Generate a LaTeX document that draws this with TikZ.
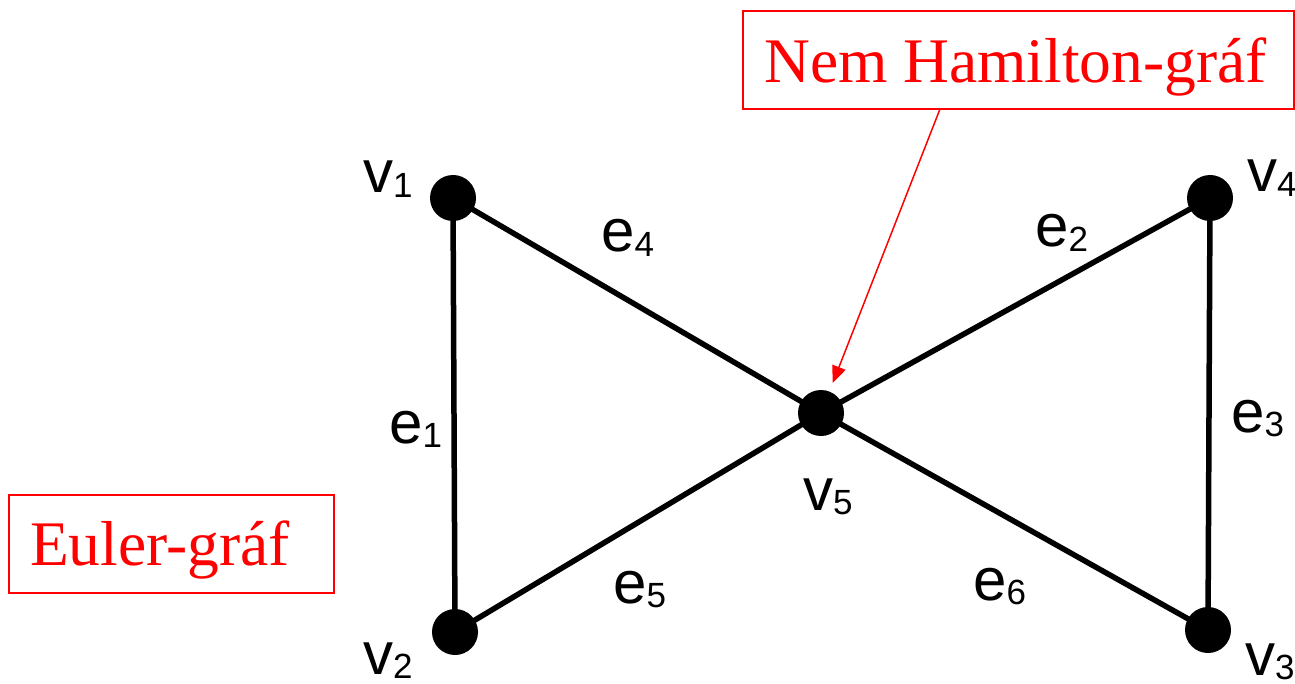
\documentclass[tikz,border=0pt]{standalone}
\usepackage{fontspec}
\setmainfont{Liberation Serif}
\newfontfamily\arialf{Liberation Sans}
\usetikzlibrary{arrows.meta}
\newcommand\vsub[2]{#1\raisebox{-4.5pt}{\fontsize{35}{35}\selectfont #2}}
\begin{document}
\begin{tikzpicture}[x=1pt,y=-1pt,
  vert/.style={circle,fill=black,inner sep=0pt,minimum size=46pt},
  edge/.style={line width=5.5pt},
  lbl/.style={anchor=base west,inner sep=0pt,font=\arialf\fontsize{60}{60}\selectfont},
  redbox/.style={draw=red,line width=1.5pt,inner sep=0pt},
  redtext/.style={anchor=base west,inner sep=0pt,text=red,font=\fontsize{63.5}{63.5}\selectfont},
  pointer/.style={draw=red,line width=1.5pt,-{Triangle[length=17pt,width=14pt]}},
]
\useasboundingbox (0,0) rectangle (1295,684);
% boxes
\node[redbox,minimum width=325pt,minimum height=98pt] (eulerbox) at (171.5,544) {};
\node[redtext] (eulertext) at (30,565) {Euler-gráf};
\node[redbox,minimum width=551pt,minimum height=98pt] (hambox) at (1018.5,60) {};
\node[redtext] (hamtext) at (764,83) {Nem Hamilton-gráf};
% vertices
\node[vert] (v1) at (453,198) {};
\node[vert] (v2) at (455,632) {};
\node[vert] (v3) at (1208,630) {};
\node[vert] (v4) at (1210,198) {};
\node[vert] (v5) at (821,413) {};
% edges
\draw[edge] (v1.center) -- (v2.center);
\draw[edge] (v1.center) -- (v5.center);
\draw[edge] (v2.center) -- (v5.center);
\draw[edge] (v4.center) -- (v5.center);
\draw[edge] (v3.center) -- (v5.center);
\draw[edge] (v4.center) -- (v3.center);
% labels
\node[lbl] (lv1) at (363,193) {\vsub{v}{1}};
\node[lbl] (lv2) at (363,674) {\vsub{v}{2}};
\node[lbl] (lv3) at (1245,675) {\vsub{v}{3}};
\node[lbl] (lv4) at (1247,192) {\vsub{v}{4}};
\node[lbl] (lv5) at (803,510) {\vsub{v}{5}};
\node[lbl] (le1) at (389,443) {\vsub{e}{1}};
\node[lbl] (le2) at (1035,247) {\vsub{e}{2}};
\node[lbl] (le3) at (1231,432) {\vsub{e}{3}};
\node[lbl] (le4) at (601,252) {\vsub{e}{4}};
\node[lbl] (le5) at (613,603) {\vsub{e}{5}};
\node[lbl] (le6) at (973,600) {\vsub{e}{6}};
% pointer
\coordinate (pstart) at (940,109);
\draw[pointer,shorten >=9pt] (pstart) -- (v5);
\end{tikzpicture}
\end{document}
